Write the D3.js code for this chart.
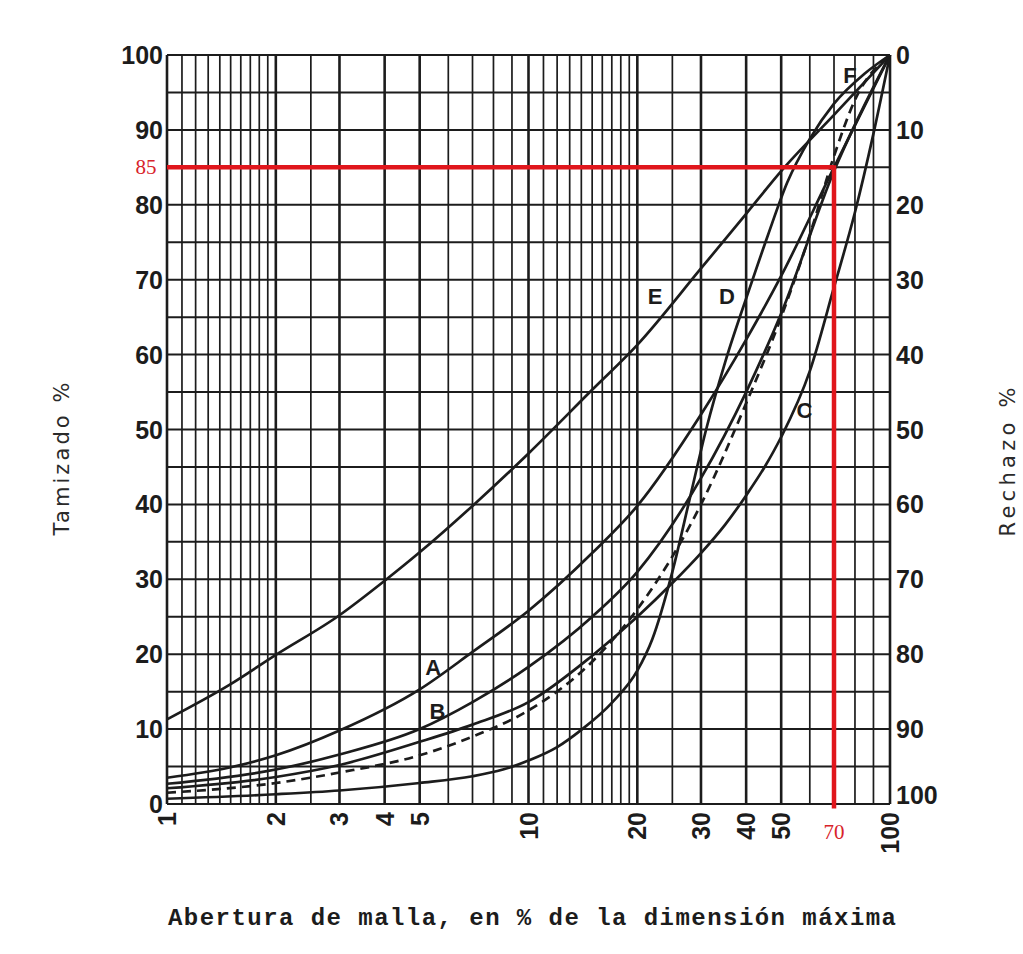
<!DOCTYPE html>
<html>
<head>
<meta charset="utf-8">
<script src="https://cdn.jsdelivr.net/npm/d3@7"></script>
<style>
  body { margin: 0; background: #fff; }
</style>
</head>
<body>
<div id="chart"></div>
<script>
// grading curves: [aperture % of max size, % passing]
const curveA = [[1,3.5],[1.5,4.9],[2,6.5],[3,9.8],[5,15.3],[7,20.3],[10,25.8],[15,33.5],[20,39.8],[30,52],[40,62],[50,70.5],[70,85],[100,100]];
const curveB = [[1,2.7],[2,4.6],[3,6.6],[5,10],[7,13.6],[10,18.3],[15,25],[20,31],[30,43.5],[40,55],[50,65.5],[70,84.5],[100,100]];
const curveC = [[1,2.1],[2,3.6],[3,5.2],[5,8.3],[7,10.6],[10,13.6],[15,19.8],[20,25],[25,29.5],[30,33.5],[35,37.3],[40,41.2],[45,45],[50,49],[60,57.8],[70,69],[80,79],[90,89.5],[100,100]];
const curveD = [[1,0.7],[2,1.3],[3,1.8],[5,2.8],[7,3.7],[8.5,4.6],[10,5.8],[12,7.6],[14,9.9],[17,13.5],[20,17.8],[22,22],[25,31],[28,41],[31,50],[35,59],[41,69],[46,76],[52,83],[60,88.8],[70,93.5],[85,97.5],[100,100]];
const curveE = [[1,11.3],[1.5,16],[2,19.9],[3,25.2],[4,29.8],[5,33.6],[7,39.8],[10,46.8],[15,55.3],[20,61.3],[30,71.5],[40,78.8],[50,84.5],[70,92],[100,100]];
const curveF = [[1,1.5],[2,2.8],[3,4.2],[5,6.5],[7,9],[10,12.5],[15,19],[20,26],[30,40],[40,53.5],[50,65],[60,76],[70,86.5],[80,94],[100,100]];

const curveNames = ["A", "B", "C", "D", "E", "F"];
// label anchor points in data space
const labelPos = [[5.45,18.2],[5.6,12.4],[58,52.5],[35.4,67.7],[22.4,67.7],[77.5,97.3]];

const xTicks = [1, 2, 3, 4, 5, 10, 20, 30, 40, 50, 100];
const yTicks = [0, 10, 20, 30, 40, 50, 60, 70, 80, 90, 100];
const xGrid = [1,1.1,1.2,1.3,1.4,1.5,1.6,1.7,1.8,1.9,2,2.5,3,4,5,6,7,8,9,10,11,12,13,14,15,16,17,18,19,20,25,30,40,50,60,70,80,90,100];
const xMajor = [1, 2, 3, 4, 5, 10, 20, 30, 40, 50, 100];
const yGrid = d3.range(0, 101, 5);

const markX = 70, markY = 85;

const W = 1023, H = 954;
const svg = d3.select("#chart").append("svg")
  .attr("width", W).attr("height", H)
  .style("background", "#fff");

const x = d3.scaleLog().domain([1, 100]).range([167, 890]);
const y = d3.scaleLinear().domain([0, 100]).range([804, 55]);
const yR = d3.scaleLinear().domain([0, 100]).range([55, 804]);

const ink = "#1c1c1c";

// grid
svg.append("g").selectAll("line").data(yGrid).join("line")
  .attr("x1", x(1)).attr("x2", x(100))
  .attr("y1", d => y(d)).attr("y2", d => y(d))
  .attr("stroke", ink).attr("stroke-width", 2);

svg.append("g").selectAll("line").data(xGrid).join("line")
  .attr("x1", d => x(d)).attr("x2", d => x(d))
  .attr("y1", y(0)).attr("y2", y(100))
  .attr("stroke", ink)
  .attr("stroke-width", d => xMajor.includes(d) ? 2.6 : 1.7);

// curves
const line = d3.line()
  .x(d => x(d[0])).y(d => y(d[1]))
  .curve(d3.curveMonotoneX);

const curves = [curveA, curveB, curveC, curveD, curveE, curveF];
svg.append("g").selectAll("path").data(curves).join("path")
  .attr("d", line)
  .attr("fill", "none")
  .attr("stroke", ink)
  .attr("stroke-width", 2.7)
  .attr("stroke-dasharray", (d, i) => curveNames[i] === "F" ? "9,6" : null);

svg.append("g").selectAll("text").data(curveNames).join("text")
  .attr("x", (d, i) => x(labelPos[i][0]))
  .attr("y", (d, i) => y(labelPos[i][1]))
  .attr("text-anchor", "middle")
  .attr("dominant-baseline", "central")
  .attr("font-family", "Liberation Sans, Arial, sans-serif")
  .attr("font-weight", "bold")
  .attr("font-size", 22)
  .attr("fill", ink)
  .text(d => d);

// red reading lines
svg.append("line")
  .attr("x1", x(1)).attr("x2", x(markX))
  .attr("y1", y(markY)).attr("y2", y(markY))
  .attr("stroke", "#e0161c").attr("stroke-width", 4.5);
svg.append("line")
  .attr("x1", x(markX)).attr("x2", x(markX))
  .attr("y1", y(markY) - 2).attr("y2", y(-0.6))
  .attr("stroke", "#e0161c").attr("stroke-width", 4.5);

// axis labels
const tickFont = "Liberation Sans, Arial, sans-serif";
svg.append("g").selectAll("text").data(yTicks).join("text")
  .attr("x", 163).attr("y", d => y(d))
  .attr("text-anchor", "end")
  .attr("dominant-baseline", "central")
  .attr("font-family", tickFont).attr("font-weight", "bold")
  .attr("font-size", 25).attr("fill", ink)
  .text(d => d);

svg.append("g").selectAll("text").data(yTicks).join("text")
  .attr("x", 896).attr("y", d => yR(d) - (d === 100 ? 9 : 0))
  .attr("text-anchor", "start")
  .attr("dominant-baseline", "central")
  .attr("font-family", tickFont).attr("font-weight", "bold")
  .attr("font-size", 25).attr("fill", ink)
  .text(d => d);

svg.append("g").selectAll("text").data(xTicks).join("text")
  .attr("transform", d => `translate(${x(d)},812) rotate(-90)`)
  .attr("text-anchor", "end")
  .attr("dy", "0.36em")
  .attr("font-family", tickFont).attr("font-weight", "bold")
  .attr("font-size", 25).attr("fill", ink)
  .text(d => d);

svg.append("text")
  .attr("x", 146).attr("y", y(markY))
  .attr("text-anchor", "middle").attr("dominant-baseline", "central")
  .attr("font-family", "Liberation Serif, Times New Roman, serif")
  .attr("font-size", 21).attr("fill", "#d8232a")
  .text(markY);

svg.append("text")
  .attr("x", x(markX)).attr("y", 832)
  .attr("text-anchor", "middle").attr("dominant-baseline", "central")
  .attr("font-family", "Liberation Serif, Times New Roman, serif")
  .attr("font-size", 21).attr("fill", "#d8232a")
  .text(markX);

// titles
svg.append("text")
  .attr("transform", "translate(62,459) rotate(-90)")
  .attr("text-anchor", "middle").attr("dominant-baseline", "central")
  .attr("font-family", "DejaVu Sans, sans-serif")
  .attr("font-size", 21).attr("fill", "#2a2a2a")
  .attr("textLength", 153).attr("lengthAdjust", "spacing")
  .text("Tamizado %");

svg.append("text")
  .attr("transform", "translate(1008,462) rotate(-90)")
  .attr("text-anchor", "middle").attr("dominant-baseline", "central")
  .attr("font-family", "DejaVu Sans, sans-serif")
  .attr("font-size", 21).attr("fill", "#2a2a2a")
  .attr("textLength", 149).attr("lengthAdjust", "spacing")
  .text("Rechazo %");

svg.append("text")
  .attr("x", 532).attr("y", 918)
  .attr("text-anchor", "middle").attr("dominant-baseline", "central")
  .attr("font-family", "Liberation Mono, DejaVu Sans Mono, monospace")
  .attr("font-weight", "bold")
  .attr("font-size", 24).attr("fill", ink)
  .attr("textLength", 728).attr("lengthAdjust", "spacing")
  .text("Abertura de malla, en % de la dimensión máxima");
</script>
</body>
</html>
